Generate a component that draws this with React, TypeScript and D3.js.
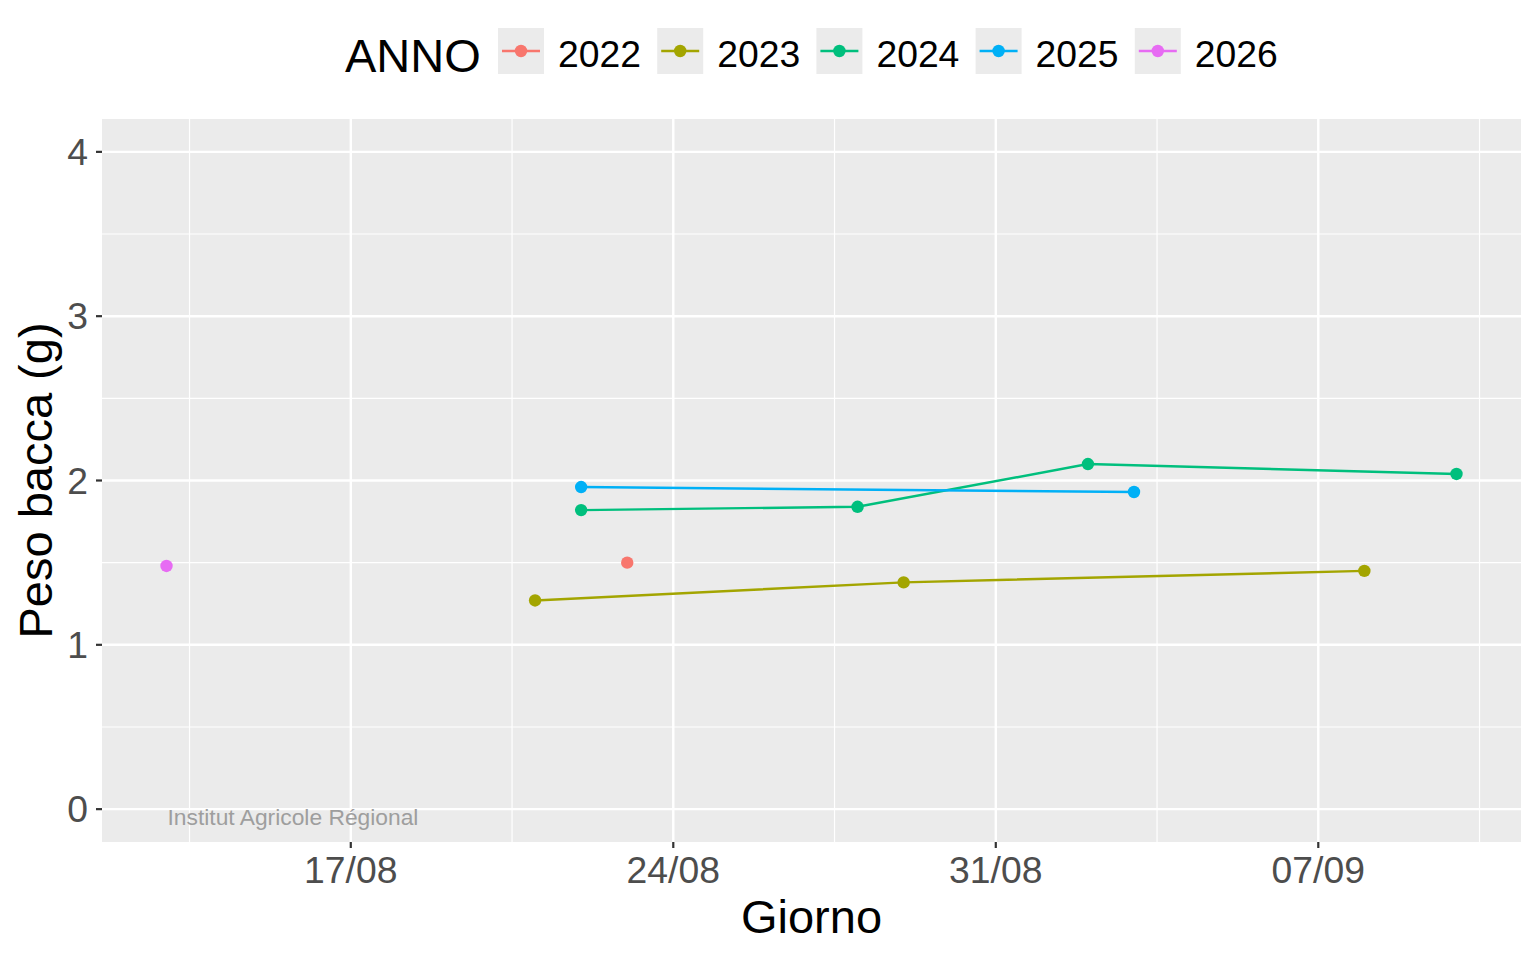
import React from 'react';
import * as d3 from 'd3';

// Series: berry weight (g) per sampling day, one array pair per year
const years = ['2022', '2023', '2024', '2025', '2026'];
const yearColors = ['#F8766D', '#A3A500', '#00BF7D', '#00B0F6', '#E76BF3'];

const days2022 = ['23/08'];
const peso2022 = [1.5];
const days2023 = ['21/08', '29/08', '08/09'];
const peso2023 = [1.27, 1.38, 1.45];
const days2024 = ['22/08', '28/08', '02/09', '10/09'];
const peso2024 = [1.82, 1.84, 2.1, 2.04];
const days2025 = ['22/08', '03/09'];
const peso2025 = [1.96, 1.93];
const days2026 = ['13/08'];
const peso2026 = [1.48];

const xTickLabels = ['17/08', '24/08', '31/08', '07/09'];
const yTicks = [0, 1, 2, 3, 4];
const yMinor = [0.5, 1.5, 2.5, 3.5];

const W = 1536;
const H = 960;
const FONT = '"Liberation Sans", Arial, Helvetica, sans-serif';

const parseDay = (s: string) => {
  const [d, m] = s.split('/').map(Number);
  return new Date(Date.UTC(2024, m - 1, d));
};

interface Pt { date: Date; peso: number }

const seriesDays = [days2022, days2023, days2024, days2025, days2026];
const seriesPeso = [peso2022, peso2023, peso2024, peso2025, peso2026];

const series = years.map((year, i) => ({
  year,
  color: yearColors[i],
  points: seriesDays[i].map((d, j) => ({ date: parseDay(d), peso: seriesPeso[i][j] })) as Pt[],
}));

export default function App() {
  const margin = { top: 119, right: 15, bottom: 118, left: 102 };
  const innerLeft = margin.left;
  const innerRight = W - margin.right;
  const innerTop = margin.top;
  const innerBottom = H - margin.bottom;

  const allPts = series.flatMap(s => s.points);
  const [d0, d1] = d3.extent(allPts, p => p.date) as [Date, Date];
  const span = d1.getTime() - d0.getTime();
  const xScale = d3.scaleUtc()
    .domain([new Date(d0.getTime() - span * 0.05), new Date(d1.getTime() + span * 0.05)])
    .range([innerLeft, innerRight]);

  const yScale = d3.scaleLinear()
    .domain([0 - 4 * 0.05, 4 + 4 * 0.05])
    .range([innerBottom, innerTop]);

  const xTicks = xTickLabels.map(parseDay);
  const halfWeek = 3.5 * 24 * 3600 * 1000;
  const xMinor = [xTicks[0].getTime() - halfWeek, ...xTicks.map(t => t.getTime() + halfWeek)]
    .map(t => new Date(t));

  const line = d3.line<Pt>()
    .x(p => xScale(p.date))
    .y(p => yScale(p.peso));

  const panelCx = (innerLeft + innerRight) / 2;
  const panelCy = (innerTop + innerBottom) / 2;

  // legend layout
  const keySize = 46;
  const keyY = 28;
  const keyX0 = 498;
  const keyStep = 159.2;

  return (
    <div>
      <style>{'body{margin:0}'}</style>
      <svg width={W} height={H} style={{ display: 'block', background: '#fff' }} fontFamily={FONT}>
        {/* panel */}
        <rect x={innerLeft} y={innerTop} width={innerRight - innerLeft} height={innerBottom - innerTop} fill="#EBEBEB" />
        {yMinor.map(v => (
          <line key={'ym' + v} x1={innerLeft} x2={innerRight} y1={yScale(v)} y2={yScale(v)} stroke="#fff" strokeWidth={1.2} />
        ))}
        {xMinor.map(d => (
          <line key={'xm' + d.getTime()} x1={xScale(d)} x2={xScale(d)} y1={innerTop} y2={innerBottom} stroke="#fff" strokeWidth={1.2} />
        ))}
        {yTicks.map(v => (
          <line key={'yg' + v} x1={innerLeft} x2={innerRight} y1={yScale(v)} y2={yScale(v)} stroke="#fff" strokeWidth={2.4} />
        ))}
        {xTicks.map(d => (
          <line key={'xg' + d.getTime()} x1={xScale(d)} x2={xScale(d)} y1={innerTop} y2={innerBottom} stroke="#fff" strokeWidth={2.4} />
        ))}

        {/* lines then points */}
        {series.map(s => s.points.length > 1 && (
          <path key={'l' + s.year} d={line(s.points) || ''} fill="none" stroke={s.color} strokeWidth={2.4} />
        ))}
        {series.map(s => s.points.map((p, j) => (
          <circle key={'p' + s.year + j} cx={xScale(p.date)} cy={yScale(p.peso)} r={6.2} fill={s.color} />
        )))}

        {/* watermark */}
        <text x={xScale(parseDay(days2026[0])) + 1} y={yScale(0) + 16.3} fontSize={22.8} fill="#9E9E9E">
          Institut Agricole Régional
        </text>

        {/* y axis */}
        {yTicks.map(v => (
          <g key={'yt' + v}>
            <line x1={innerLeft - 6} x2={innerLeft} y1={yScale(v)} y2={yScale(v)} stroke="#333" strokeWidth={2.2} />
            <text x={innerLeft - 14} y={yScale(v) + 13.3} textAnchor="end" fontSize={37.3} fill="#4D4D4D">{v}</text>
          </g>
        ))}
        {/* x axis */}
        {xTicks.map((d, i) => (
          <g key={'xt' + i}>
            <line x1={xScale(d)} x2={xScale(d)} y1={innerBottom} y2={innerBottom + 6} stroke="#333" strokeWidth={2.2} />
            <text x={xScale(d)} y={innerBottom + 41} textAnchor="middle" fontSize={37.3} fill="#4D4D4D">{xTickLabels[i]}</text>
          </g>
        ))}

        {/* axis titles */}
        <text x={panelCx} y={933} textAnchor="middle" fontSize={47} fill="#000">Giorno</text>
        <text transform={`translate(52,${panelCy}) rotate(-90)`} textAnchor="middle" fontSize={47} fill="#000">Peso bacca (g)</text>

        {/* legend */}
        <text x={345} y={71.5} fontSize={47} fill="#000">ANNO</text>
        {series.map((s, i) => {
          const kx = keyX0 + i * keyStep;
          return (
            <g key={'lg' + s.year}>
              <rect x={kx} y={keyY} width={keySize} height={keySize} fill="#EBEBEB" />
              <line x1={kx + 4} x2={kx + keySize - 4} y1={keyY + keySize / 2} y2={keyY + keySize / 2} stroke={s.color} strokeWidth={2.4} />
              <circle cx={kx + keySize / 2} cy={keyY + keySize / 2} r={6.2} fill={s.color} />
              <text x={kx + keySize + 14} y={66.7} fontSize={37.3} fill="#000">{s.year}</text>
            </g>
          );
        })}
      </svg>
    </div>
  );
}
